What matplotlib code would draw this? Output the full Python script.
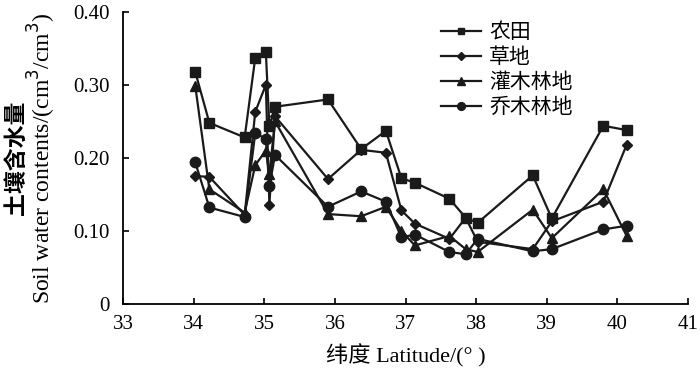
import matplotlib
matplotlib.use("Agg")
import matplotlib.pyplot as plt
from matplotlib.ticker import FuncFormatter

plt.rcParams["font.family"] = ["Liberation Serif", "Noto Sans CJK SC"]

# sampling latitudes (°)
lat = [34.02, 34.22, 34.72, 34.87, 35.02, 35.07, 35.15, 35.90, 36.37, 36.72,
       36.94, 37.13, 37.62, 37.85, 38.02, 38.80, 39.07, 39.80, 40.13]

# soil water content (cm3/cm3) per land use
farmland = [0.318, 0.248, 0.228, 0.337, 0.345, 0.243, 0.270, 0.280, 0.212, 0.237,
            0.172, 0.166, 0.144, 0.118, 0.111, 0.176, 0.117, 0.244, 0.238]
grassland = [0.175, 0.174, 0.122, 0.263, 0.300, 0.136, 0.257, 0.171, 0.211, 0.207,
             0.128, 0.110, 0.089, 0.118, 0.085, 0.075, 0.113, 0.140, 0.218]
shrubland = [0.299, 0.157, 0.125, 0.190, 0.210, 0.178, 0.250, 0.123, 0.120, 0.133,
             0.100, 0.080, 0.093, 0.075, 0.071, 0.129, 0.090, 0.157, 0.093]
forest = [0.194, 0.132, 0.119, 0.234, 0.226, 0.161, 0.204, 0.133, 0.154, 0.140,
          0.091, 0.095, 0.071, 0.068, 0.089, 0.072, 0.075, 0.102, 0.107]

series = [
    ("农田", farmland, "s", 6.5),
    ("草地", grassland, "D", 5.5),
    ("灌木林地", shrubland, "^", 7),
    ("乔木林地", forest, "o", 7.5),
]

fig = plt.figure(figsize=(7, 3.71), dpi=100)
ax = fig.add_axes([0.176, 0.181, 0.807, 0.787])

for name, vals, mk, ms in series:
    ax.plot(lat, vals, color="#1a1a1a", lw=1.6, marker=mk, ms=ms, label=name)

ax.set_xlim(33, 41)
ax.set_ylim(0, 0.40)
ax.set_xticks(range(33, 42))
ax.set_yticks([0, 0.1, 0.2, 0.3, 0.4])
ax.yaxis.set_major_formatter(FuncFormatter(lambda v, p: "0" if v == 0 else f"{v:.2f}"))

for s in ["top", "right"]:
    ax.spines[s].set_visible(False)
for s in ["left", "bottom"]:
    ax.spines[s].set_linewidth(1.3)
ax.tick_params(direction="in", length=4, width=1.2, labelsize=15)
ax.tick_params(axis="x", pad=8)
ax.tick_params(axis="y", pad=10)

ax.set_xlabel("纬度 Latitude/(° )", fontsize=16, labelpad=7)
fig.text(0.024, 0.574, "土壤含水量", rotation=90, fontsize=16.5, fontweight="bold",
         ha="center", va="center")
fig.text(0.060, 0.574, "Soil water contents/(cm$^3$/cm$^3$)", rotation=90,
         fontsize=17, ha="center", va="center")

ax.legend(loc="upper left", bbox_to_anchor=(0.53, 1.025), frameon=False,
          fontsize=15, handlelength=1.9, handletextpad=0.4, labelspacing=0.26,
          markerscale=0.75)

fig.savefig("out.png", dpi=100, facecolor="white")
